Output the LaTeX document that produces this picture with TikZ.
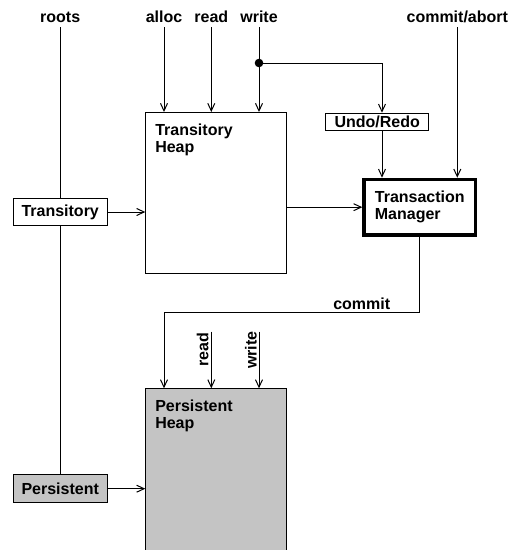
\documentclass[tikz,border=0pt]{standalone}
\usepackage{fontspec}
\setmainfont{Liberation Sans}
\usetikzlibrary{arrows.meta}
\definecolor{heapgray}{HTML}{C4C4C4}
\begin{document}
\begin{tikzpicture}[x=1pt,y=-1pt,
  font=\fontsize{16}{17}\selectfont\bfseries,
  line width=1pt,
  arr/.style={-{Straight Barb[length=7.5pt,width=7pt,line width=1pt]}},
  box/.style={draw, inner sep=0pt},
  toplabel/.style={anchor=base, inner xsep=0pt, inner ysep=4pt, text depth=0pt},
  heaplabel/.style={anchor=north west, inner sep=0pt, align=left, xshift=9.5pt, yshift=-11pt}]
\useasboundingbox (0,0) rectangle (531,550);

% boxes
\node[box, minimum width=94pt, minimum height=27.6pt] (trans) at (60.2,212) {Transitory};
\node[box, fill=heapgray, minimum width=94pt, minimum height=27.6pt] (pers) at (60.2,488.7) {Persistent};
\node[box, minimum width=141pt, minimum height=161pt,
      label={[heaplabel]north west:Transitory\\Heap}] (theap) at (216.3,193) {};
\node[box, fill=heapgray, minimum width=141pt, minimum height=172pt,
      label={[heaplabel]north west:Persistent\\Heap}] (pheap) at (216.3,474.8) {};
\node[box, minimum width=103.3pt, minimum height=17pt] (undo) at (377.2,121.7) {Undo/Redo};
\node[box, line width=3.6pt, minimum width=111.4pt, minimum height=55.4pt, align=left] (tm) at (419.8,207.2) {Transaction\\Manager};

% input labels
\node[toplabel] (roots) at (60.2,22.5) {roots};
\node[toplabel] (alloc) at (164,22.5) {alloc};
\node[toplabel] (read) at (211.3,22.5) {read};
\node[toplabel] (write) at (259,22.5) {write};
\node[toplabel] (ca) at (457.3,22.5) {commit/abort};

% roots line through the root boxes
\draw (roots.south) -- (trans.north);
\draw (trans.south) -- (pers.north);

% operations on the transitory heap
\draw[arr] (alloc.south) -- (alloc.south |- theap.north);
\draw[arr] (read.south) -- (read.south |- theap.north);
\draw[arr] (write.south) -- (write.south |- theap.north);

% write is also logged for undo/redo
\coordinate (dot) at (259,63);
\fill (dot) circle (4.3pt);
\coordinate (ulog) at ([xshift=4.8pt]undo.north);
\draw[arr] (dot) -| (ulog);
\draw[arr] ([xshift=4.8pt]undo.south) -- ([xshift=4.8pt]undo.south |- tm.north);
\draw[arr] (ca.south) -- (ca.south |- tm.north);

% root boxes into heaps
\draw[arr] (trans.east) -- (trans.east -| theap.west);
\draw[arr] (pers.east) -- (pers.east -| pheap.west);

% transitory heap to transaction manager
\draw[arr] (theap.east |- tm.west) -- (tm.west);

% commit path into the persistent heap
\coordinate (cbend) at (164,312);
\draw[arr] (tm.south) |- (cbend) -- (cbend |- pheap.north);
\node[anchor=base, inner sep=0pt] (commit) at (361.7,309.3) {commit};

% operations on the persistent heap
\coordinate (prd) at (211.3,331.7);
\coordinate (pwr) at (259,331.7);
\draw[arr] (prd) -- (prd |- pheap.north);
\draw[arr] (pwr) -- (pwr |- pheap.north);
\node[rotate=90, anchor=base, inner sep=0pt] (pread) at (208.3,350) {read};
\node[rotate=90, anchor=base, inner sep=0pt] (pwrite) at (256.7,350) {write};
\end{tikzpicture}
\end{document}
